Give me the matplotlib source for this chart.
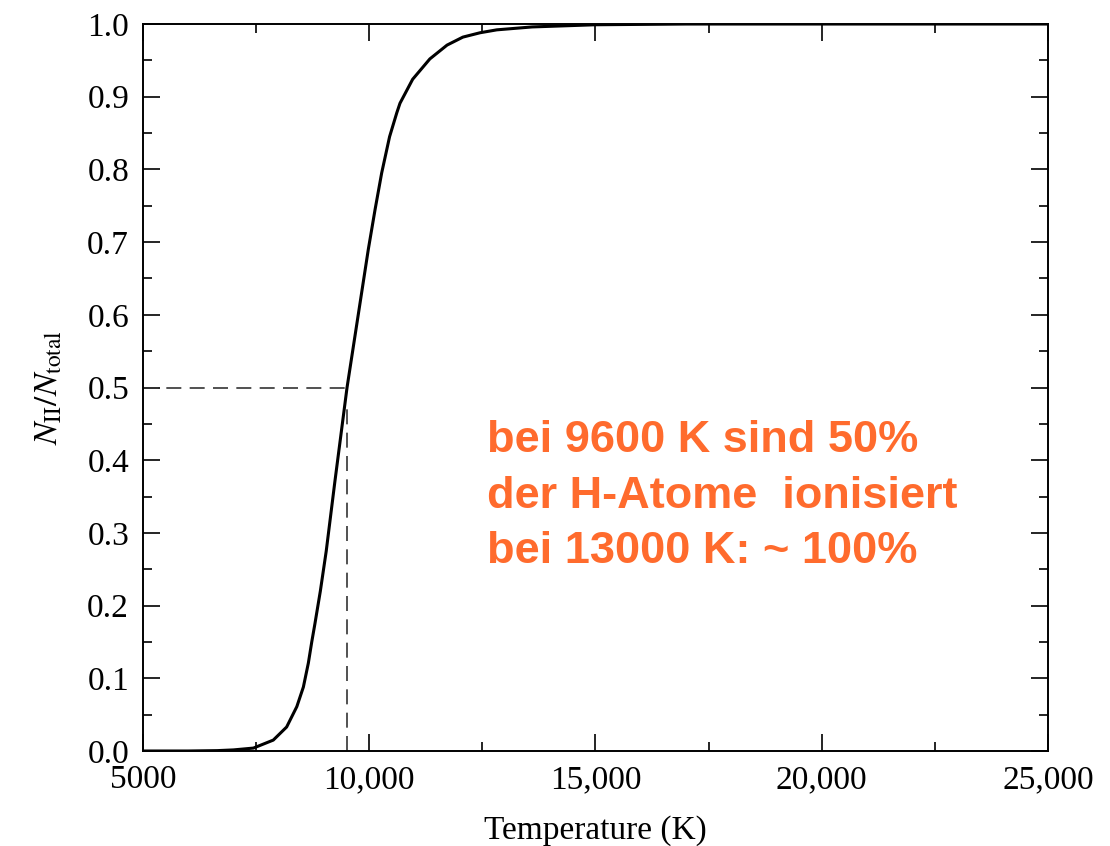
import numpy as np
import matplotlib
matplotlib.use("Agg")
import matplotlib.pyplot as plt
from matplotlib.ticker import MultipleLocator, FuncFormatter

# values: temperature (K) -> N_II / N_total
temperature = [5000, 6000, 6640, 7000, 7440, 7880, 8175, 8400, 8545, 8655,
               8730, 8800, 8920, 9050, 9240, 9510, 9980, 10130, 10275, 10450,
               10610, 10680, 10960, 11340, 11720, 12070, 12450, 12820, 13600,
               15000, 17000, 25000]
fraction = [0.0, 0.0, 0.0005, 0.0015, 0.004, 0.015, 0.033, 0.061, 0.088, 0.121,
            0.150, 0.175, 0.220, 0.275, 0.370, 0.500, 0.690, 0.745, 0.795, 0.845,
            0.878, 0.891, 0.924, 0.952, 0.971, 0.982, 0.988, 0.992, 0.996,
            0.999, 1.0, 1.0]

half_temp = 9500      # where the dashed guide lines meet the curve
half_level = 0.5

note_lines = ["bei 9600 K sind 50%",
              "der H-Atome  ionisiert",
              "bei 13000 K: ~ 100%"]

plt.rcParams['font.family'] = ['Liberation Serif', 'DejaVu Serif']
plt.rcParams['mathtext.fontset'] = 'stix'

fig = plt.figure(figsize=(11.1, 8.46), dpi=100)
ax = fig.add_axes([0.1288, 0.1123, 0.9441 - 0.1288, 0.9716 - 0.1123])

ax.plot(temperature, fraction, color='black', lw=2.2,
        solid_capstyle='round', solid_joinstyle='round')
ax.plot([5000, half_temp - 20], [half_level, half_level], color='#333333',
        lw=1.2, dashes=(9, 5))
ax.plot([half_temp, half_temp], [0, half_level - 0.025], color='#333333',
        lw=1.2, dashes=(9, 5))

ax.set_xlim(5000, 25000)
ax.set_ylim(0, 1.0)
ax.xaxis.set_major_locator(MultipleLocator(5000))
ax.xaxis.set_minor_locator(MultipleLocator(2500))
ax.yaxis.set_major_locator(MultipleLocator(0.1))
ax.yaxis.set_minor_locator(MultipleLocator(0.05))


def fmt_temp(v, pos):
    v = int(round(v))
    return str(v) if v < 10000 else f"{v:,}"


ax.xaxis.set_major_formatter(FuncFormatter(fmt_temp))
ax.yaxis.set_major_formatter(FuncFormatter(lambda v, p: f"{v:.1f}"))

ax.tick_params(which='both', direction='in', top=True, right=True,
               labelsize=24, width=1.2)
ax.tick_params(which='major', length=12)
ax.tick_params(which='minor', length=6.5)
ax.tick_params(axis='x', pad=10)
ax.tick_params(axis='y', pad=10)
for sp in ax.spines.values():
    sp.set_linewidth(1.4)

ax.set_xlabel('Temperature (K)', fontsize=24, labelpad=14)
ax.set_ylabel(r'$N_{\rm II}/N_{\rm total}$', fontsize=24, labelpad=16)

for i, line in enumerate(note_lines):
    ax.text(12600, 0.411 - i * 0.0765, line, color='#ff6b2d', fontsize=32.5,
            fontweight='bold', family=['Liberation Sans', 'DejaVu Sans'],
            va='baseline', ha='left')

fig.savefig('out.png', dpi=100)
